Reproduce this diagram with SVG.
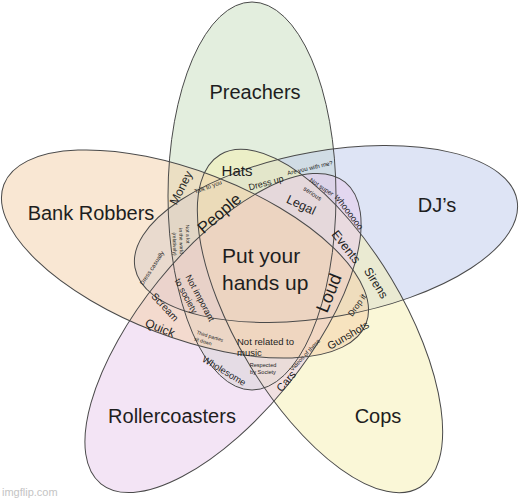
<svg xmlns="http://www.w3.org/2000/svg" width="520" height="500" viewBox="0 0 520 500">
<style>
.set{fill-opacity:0.5;stroke:none}
.outline{fill:none;stroke:#4a4a4a;stroke-width:1}
text{font-family:"Liberation Sans",Arial,sans-serif;fill:#1e1e1e;text-anchor:middle;dominant-baseline:central}
.big{font-size:20px}
.ctr{font-size:21px;text-anchor:start}
.wm{font-size:11px;fill:#c4c4c4;text-anchor:start}
</style>
<defs>
<ellipse id="eP" cx="252" cy="196" rx="84" ry="194"/>
<ellipse id="eD" cx="326" cy="234" rx="83" ry="194" transform="rotate(80 326 234)"/>
<ellipse id="eC" cx="320" cy="321" rx="83" ry="194" transform="rotate(-31 320 321)"/>
<ellipse id="eR" cx="223" cy="333" rx="83" ry="194" transform="rotate(39 223 333)"/>
<ellipse id="eB" cx="185" cy="254" rx="83" ry="194" transform="rotate(-69 185 254)"/>
</defs>
<rect width="520" height="500" fill="#fff"/>
<g id="preachers"><use href="#eP" class="set" fill="#c7ddbd"/><text class="big" x="255" y="92">Preachers</text></g>
<g id="djs"><use href="#eD" class="set" fill="#bdc9eb"/><text class="big" x="437" y="205">DJ’s</text></g>
<g id="cops"><use href="#eC" class="set" fill="#f5efaf"/><text class="big" x="378" y="416">Cops</text></g>
<g id="rollercoasters"><use href="#eR" class="set" fill="#e7c9eb"/><text class="big" x="172" y="416">Rollercoasters</text></g>
<g id="bankrobbers"><use href="#eB" class="set" fill="#f3cfa7"/><text class="big" x="91" y="213">Bank Robbers</text></g>
<g id="connectors">
<use href="#eP" class="outline"/>
<use href="#eD" class="outline"/>
<use href="#eC" class="outline"/>
<use href="#eR" class="outline"/>
<use href="#eB" class="outline"/>
</g>
<g id="regions">
<text class="ctr" x="222" y="255">Put your</text>
<text class="ctr" x="222" y="282">hands up</text>
<text font-size="15" x="237" y="170">Hats</text>
<text font-size="12" transform="translate(181 188) rotate(-63)">Money</text>
<text font-size="16.5" transform="translate(219 213) rotate(-41)">People</text>
<text font-size="6" transform="translate(208 187) rotate(-20)">Talk to you</text>
<text font-size="9" transform="translate(266 183) rotate(-15)">Dress up</text>
<text font-size="6" transform="translate(310 168) rotate(-13)">Are you with me?</text>
<text font-size="6.3" transform="translate(321.7 186.7) rotate(33)">Not super</text>
<text font-size="6.3" transform="translate(312.7 193.3) rotate(33)">serious</text>
<text font-size="9" transform="translate(349 212) rotate(53)">whoooooo</text>
<text font-size="12.5" transform="translate(301 205) rotate(25)">Legal</text>
<text font-size="12.5" transform="translate(346 247) rotate(52)">Events</text>
<text font-size="12" transform="translate(376 283) rotate(58)">Sirens</text>
<text font-size="18" transform="translate(329 293) rotate(-68)">Loud</text>
<text font-size="8.5" transform="translate(357 305) rotate(-55)">Drop it</text>
<text font-size="10.8" transform="translate(348 335) rotate(-30)">Gunshots</text>
<text font-size="6" transform="translate(305 355) rotate(-47)">Videos of these</text>
<text font-size="11" transform="translate(286 381) rotate(-50)">Cars</text>
<text font-size="5.6" x="263" y="365">Respected</text>
<text font-size="5.6" x="263" y="372">by Society</text>
<text font-size="9.5" x="237" y="341" style="text-anchor:start">Not related to</text>
<text font-size="9.5" x="237" y="352" style="text-anchor:start">music</text>
<text font-size="9.3" transform="translate(224 371) rotate(31)">Wholesome</text>
<text font-size="5" transform="translate(210 336) rotate(17)">Third parties</text>
<text font-size="5" transform="translate(203 341) rotate(17)">sit down</text>
<text font-size="12" transform="translate(160 328) rotate(22)">Quick</text>
<text font-size="10" transform="translate(165 307) rotate(47)">Scream</text>
<text font-size="9" transform="translate(200 298) rotate(62)">Not imporant</text>
<text font-size="9" transform="translate(186 296) rotate(62)">to society</text>
<text font-size="6" transform="translate(152 268) rotate(-57)">Dress casually</text>
<text font-size="5" transform="translate(188 234) rotate(88)">Not a lot</text>
<text font-size="5" transform="translate(181.5 241) rotate(88)">in the world</text>
<text font-size="5" transform="translate(175 244) rotate(88)">(relatively)</text>
<text class="wm" x="2" y="492">imgflip.com</text>
</g>
</svg>
